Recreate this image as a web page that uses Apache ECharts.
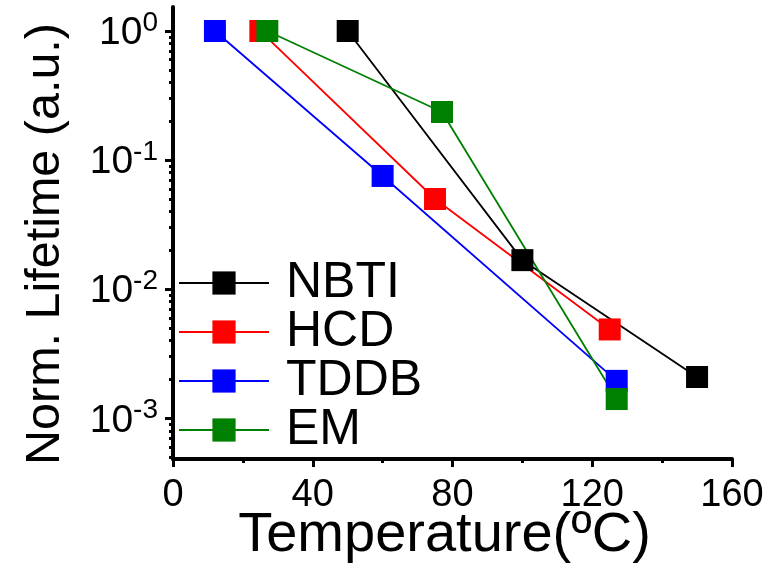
<!DOCTYPE html>
<html>
<head>
<meta charset="utf-8">
<script src="https://cdn.jsdelivr.net/npm/echarts@6/dist/echarts.min.js"></script>
<style>
html,body{margin:0;padding:0;background:#fff;}
#chart{width:781px;height:567px;}
</style>
</head>
<body>
<div id="chart"></div>
<script>
// Data
const seriesNames = ['NBTI', 'HCD', 'TDDB', 'EM'];
const seriesColors = ['#000000', '#ff0000', '#0000ff', '#008000'];
const nbtiTemp = [50, 100, 150];
const nbtiLife = [1.0, 0.0168, 0.00209];
const hcdTemp = [25, 75, 125];
const hcdLife = [1.0, 0.050, 0.00488];
const tddbTemp = [12, 60, 127];
const tddbLife = [1.0, 0.0754, 0.00195];
const emTemp = [27, 77, 127];
const emLife = [1.0, 0.236, 0.00141];

const xTicks = [0, 40, 80, 120, 160];
const yMajorTicks = [0.001, 0.01, 0.1, 1];
const yMinorTicks = [
  0.0005, 0.0006, 0.0007, 0.0008, 0.0009,
  0.002, 0.003, 0.004, 0.005, 0.006, 0.007, 0.008, 0.009,
  0.02, 0.03, 0.04, 0.05, 0.06, 0.07, 0.08, 0.09,
  0.2, 0.3, 0.4, 0.5, 0.6, 0.7, 0.8, 0.9
];
const yMin = 0.000484;
const yMax = 1.535;

const temps = [nbtiTemp, hcdTemp, tddbTemp, emTemp];
const lifes = [nbtiLife, hcdLife, tddbLife, emLife];

const FONT = 'Liberation Sans, Arial, sans-serif';

function pair(xs, ys) { return xs.map((x, i) => [x, ys[i]]); }

const series = seriesNames.map((name, i) => ({
  name: name,
  type: 'line',
  data: pair(temps[i], lifes[i]),
  symbol: 'rect',
  symbolSize: 22,
  color: seriesColors[i],
  lineStyle: { color: seriesColors[i], width: 1.8 },
  itemStyle: { color: seriesColors[i] },
  emphasis: { disabled: true },
  animation: false,
  xAxisIndex: 0,
  yAxisIndex: 0
}));

const chart = echarts.init(document.getElementById('chart'), null, { renderer: 'canvas' });
chart.setOption({
  backgroundColor: '#ffffff',
  animation: false,
  grid: { left: 173, right: 49, top: 7, bottom: 108, containLabel: false, outerBoundsMode: 'none' },
  xAxis: {
    type: 'value',
    min: 0, max: 160, interval: 40,
    name: 'Temperature(\u00baC)',
    nameLocation: 'middle',
    nameGap: 49,
    nameMoveOverlap: false,
    nameTextStyle: { fontFamily: FONT, fontSize: 56, color: '#000', padding: [0, 16, 0, 0] },
    axisLine: { show: true, lineStyle: { color: '#000', width: 4 } },
    axisTick: { show: true, inside: false, length: 8, lineStyle: { color: '#000', width: 3 } },
    minorTick: { show: true, splitNumber: 2, length: 4, lineStyle: { color: '#000', width: 3 } },
    axisLabel: {
      fontFamily: FONT, fontSize: 38, color: '#000', margin: 18,
      customValues: xTicks
    },
    splitLine: { show: false },
    minorSplitLine: { show: false }
  },
  yAxis: [
    {
      type: 'log',
      logBase: 10,
      min: yMin, max: yMax,
      position: 'left',
      name: 'Norm. Lifetime (a.u.)',
      nameLocation: 'middle',
      nameGap: 103,
      nameMoveOverlap: false,
      nameRotate: 90,
      nameTextStyle: { fontFamily: FONT, fontSize: 48.5, color: '#000', padding: [0, 22, 0, 0] },
      axisLine: { show: true, onZero: false, lineStyle: { color: '#000', width: 4 } },
      axisTick: { show: true, inside: false, length: 8, lineStyle: { color: '#000', width: 3 }, customValues: yMajorTicks },
      axisLabel: {
        margin: 15,
        customValues: yMajorTicks,
        formatter: function (v) {
          const e = Math.round(Math.log10(v));
          return '{b|10}{s|' + e + '}';
        },
        rich: {
          b: { fontFamily: FONT, fontSize: 39, color: '#000', lineHeight: 44, verticalAlign: 'bottom' },
          s: { fontFamily: FONT, fontSize: 28, color: '#000', lineHeight: 24, verticalAlign: 'top' }
        }
      },
      splitLine: { show: false }
    },
    {
      type: 'log',
      logBase: 10,
      min: yMin, max: yMax,
      position: 'left',
      axisLine: { show: false, onZero: false },
      axisTick: { show: true, inside: false, length: 4, lineStyle: { color: '#000', width: 3 }, customValues: yMinorTicks },
      axisLabel: { show: false },
      splitLine: { show: false }
    }
  ],
  legend: {
    show: true,
    orient: 'vertical',
    left: 173,
    top: 253,
    itemWidth: 90,
    itemHeight: 29,
    itemGap: -1,
    data: seriesNames,
    selectedMode: false,
    textStyle: { fontFamily: FONT, fontSize: 50, color: '#000', lineHeight: 49, padding: [0, 0, 0, 12] }
  },
  series: series
});
</script>
</body>
</html>
